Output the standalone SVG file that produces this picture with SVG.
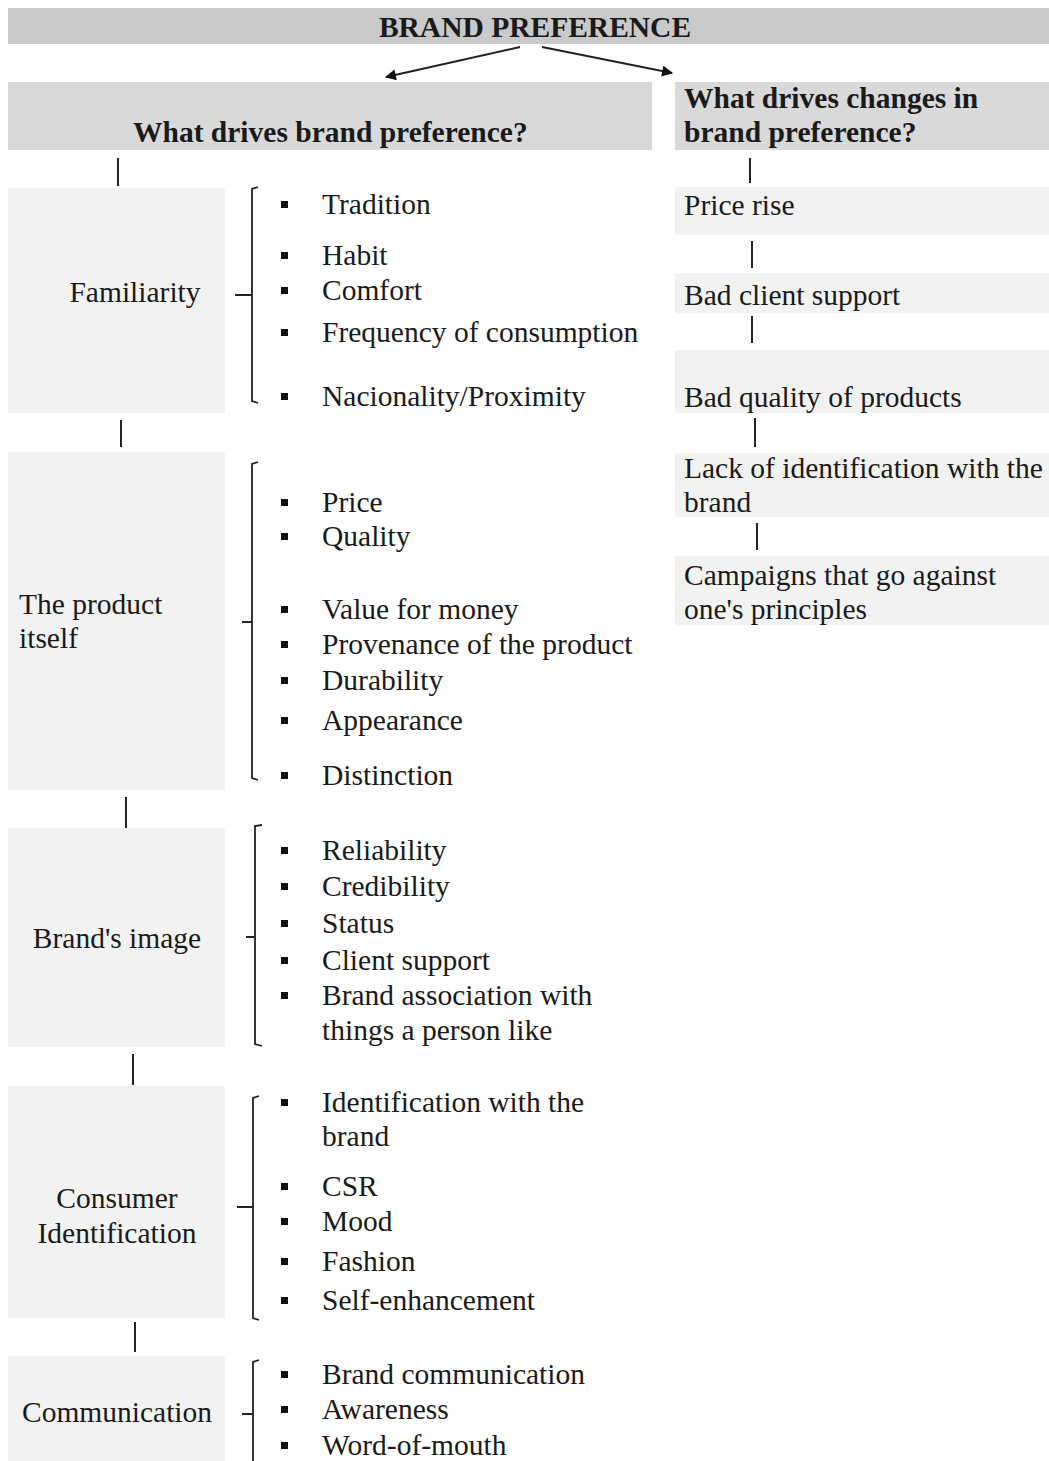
<svg xmlns="http://www.w3.org/2000/svg" width="1049" height="1461" viewBox="0 0 1049 1461">
<defs>
<marker id="ah" viewBox="0 0 10 10" refX="9" refY="5" markerWidth="13" markerHeight="11" markerUnits="userSpaceOnUse" orient="auto"><path d="M0,0 L10,5 L0,10 z" fill="#111"/></marker>
<style>
text{font-family:"Liberation Serif","Times New Roman",serif;font-size:29.5px;fill:#1a1a1a}
.b{font-weight:bold}
.mid{text-anchor:middle}
.hdr{fill:#d9d9d9}
.top{fill:#c9c9c9}
.box{fill:#f2f2f2}
.ln{stroke:#222;stroke-width:2;fill:none}
.br{stroke:#222;stroke-width:1.8;fill:none}
.bul{fill:#111}
</style>
</defs>
<rect width="1049" height="1461" fill="#fff"/>

<g id="brand-preference">
<rect class="top" x="8" y="8" width="1041" height="36"/>
<text class="b mid" x="535" y="37">BRAND PREFERENCE</text>
</g>

<g id="connectors">
<line class="ln" x1="520" y1="47" x2="386" y2="77" marker-end="url(#ah)"/>
<line class="ln" x1="542" y1="47" x2="672" y2="73" marker-end="url(#ah)"/>
<line class="ln" x1="118" y1="158" x2="118" y2="186"/>
<line class="ln" x1="121" y1="420" x2="121" y2="447"/>
<line class="ln" x1="126" y1="797" x2="126" y2="830"/>
<line class="ln" x1="133" y1="1054" x2="133" y2="1085"/>
<line class="ln" x1="135" y1="1322" x2="135" y2="1352"/>
<line class="ln" x1="750" y1="158" x2="750" y2="183"/>
<line class="ln" x1="752" y1="241" x2="752" y2="268"/>
<line class="ln" x1="752" y1="316" x2="752" y2="343"/>
<line class="ln" x1="755" y1="418" x2="755" y2="447"/>
<line class="ln" x1="757" y1="523" x2="757" y2="550"/>
</g>

<g id="left-header">
<rect class="hdr" x="8" y="82" width="644" height="68"/>
<text class="b" x="133" y="142">What drives brand preference?</text>
</g>

<g id="right-header">
<rect class="hdr" x="675" y="82" width="374" height="68"/>
<text class="b" x="684" y="108">What drives changes in</text>
<text class="b" x="684" y="142">brand preference?</text>
</g>

<g id="familiarity">
<rect class="box" x="8" y="188" width="217" height="225"/>
<text class="mid" x="135" y="302">Familiarity</text>
<path class="br" d="M258,187 L252,189 V401 L258,403 M235,295 H252"/>
<rect class="bul" x="281" y="201" width="7" height="7"/><text x="322" y="214">Tradition</text>
<rect class="bul" x="281" y="252" width="7" height="7"/><text x="322" y="265">Habit</text>
<rect class="bul" x="281" y="287" width="7" height="7"/><text x="322" y="300">Comfort</text>
<rect class="bul" x="281" y="329" width="7" height="7"/><text x="322" y="342">Frequency of consumption</text>
<rect class="bul" x="281" y="393" width="7" height="7"/><text x="322" y="406">Nacionality/Proximity</text>
</g>

<g id="product-itself">
<rect class="box" x="8" y="452" width="217" height="338"/>
<text x="19" y="614">The product</text>
<text x="19" y="648">itself</text>
<path class="br" d="M258,462 L252,464 V778 L258,780 M242,622 H252"/>
<rect class="bul" x="281" y="499" width="7" height="7"/><text x="322" y="512">Price</text>
<rect class="bul" x="281" y="533" width="7" height="7"/><text x="322" y="546">Quality</text>
<rect class="bul" x="281" y="606" width="7" height="7"/><text x="322" y="619">Value for money</text>
<rect class="bul" x="281" y="641" width="7" height="7"/><text x="322" y="654">Provenance of the product</text>
<rect class="bul" x="281" y="677" width="7" height="7"/><text x="322" y="690">Durability</text>
<rect class="bul" x="281" y="717" width="7" height="7"/><text x="322" y="730">Appearance</text>
<rect class="bul" x="281" y="772" width="7" height="7"/><text x="322" y="785">Distinction</text>
</g>

<g id="brands-image">
<rect class="box" x="8" y="828" width="217" height="219"/>
<text class="mid" x="117" y="948">Brand's image</text>
<path class="br" d="M262,825 L255,826 V1044 L262,1046 M246,937 H255"/>
<rect class="bul" x="281" y="847" width="7" height="7"/><text x="322" y="860">Reliability</text>
<rect class="bul" x="281" y="883" width="7" height="7"/><text x="322" y="896">Credibility</text>
<rect class="bul" x="281" y="920" width="7" height="7"/><text x="322" y="933">Status</text>
<rect class="bul" x="281" y="957" width="7" height="7"/><text x="322" y="970">Client support</text>
<rect class="bul" x="281" y="992" width="7" height="7"/><text x="322" y="1005">Brand association with</text>
<text x="322" y="1040">things a person like</text>
</g>

<g id="consumer-identification">
<rect class="box" x="8" y="1086" width="217" height="232"/>
<text class="mid" x="117" y="1208">Consumer</text>
<text class="mid" x="117" y="1243">Identification</text>
<path class="br" d="M259,1096 L253,1098 V1318 L259,1320 M237,1207 H253"/>
<rect class="bul" x="281" y="1099" width="7" height="7"/><text x="322" y="1112">Identification with the</text>
<text x="322" y="1146">brand</text>
<rect class="bul" x="281" y="1183" width="7" height="7"/><text x="322" y="1196">CSR</text>
<rect class="bul" x="281" y="1218" width="7" height="7"/><text x="322" y="1231">Mood</text>
<rect class="bul" x="281" y="1258" width="7" height="7"/><text x="322" y="1271">Fashion</text>
<rect class="bul" x="281" y="1297" width="7" height="7"/><text x="322" y="1310">Self-enhancement</text>
</g>

<g id="communication">
<rect class="box" x="8" y="1356" width="217" height="105"/>
<text class="mid" x="117" y="1422">Communication</text>
<path class="br" d="M259,1360 L253,1362 V1461 M242,1414 H253"/>
<rect class="bul" x="281" y="1371" width="7" height="7"/><text x="322" y="1384">Brand communication</text>
<rect class="bul" x="281" y="1406" width="7" height="7"/><text x="322" y="1419">Awareness</text>
<rect class="bul" x="281" y="1442" width="7" height="7"/><text x="322" y="1455">Word-of-mouth</text>
</g>

<g id="price-rise">
<rect class="box" x="675" y="187" width="374" height="48"/>
<text x="684" y="215">Price rise</text>
</g>
<g id="bad-client-support">
<rect class="box" x="675" y="273" width="374" height="40"/>
<text x="684" y="305">Bad client support</text>
</g>
<g id="bad-quality">
<rect class="box" x="675" y="350" width="374" height="63"/>
<text x="684" y="407">Bad quality of products</text>
</g>
<g id="lack-identification">
<rect class="box" x="675" y="453" width="374" height="64"/>
<text x="684" y="478">Lack of identification with the</text>
<text x="684" y="512">brand</text>
</g>
<g id="campaigns">
<rect class="box" x="675" y="556" width="374" height="69"/>
<text x="684" y="585">Campaigns that go against</text>
<text x="684" y="619">one's principles</text>
</g>
</svg>
